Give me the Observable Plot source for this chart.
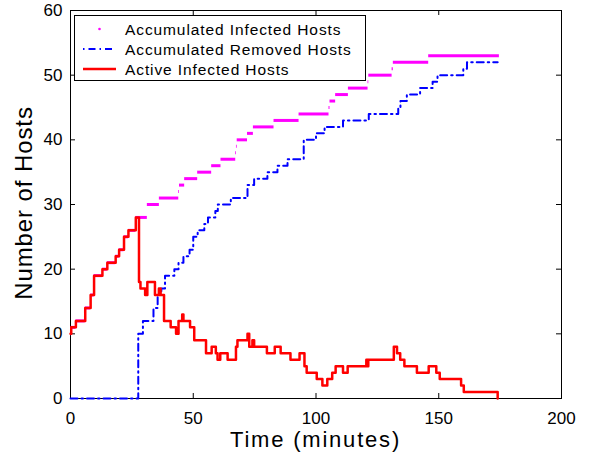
<!DOCTYPE html>
<html>
<head>
<meta charset="utf-8">
<script src="https://cdn.jsdelivr.net/npm/d3@7"></script>
<script src="https://cdn.jsdelivr.net/npm/@observablehq/plot@0.6"></script>
<style>
  html, body { margin: 0; padding: 0; background: white; }
  svg { display: block; }
</style>
</head>
<body>
<div id="chart"></div>
<script>
// Tick values
const xTicks = [0, 50, 100, 150, 200];
const yTicks = [0, 10, 20, 30, 40, 50, 60];

// Accumulated Infected Hosts (step starts, levels)
const infT = [0,0.3,2.2,6,8.2,9.6,13,15,18.4,19.8,21.8,23.6,26.6,31.3,36.2,44.1,44.4,46.5,51.8,57.5,61.3,67.3,67.6,67.9,72.1,74.5,82.9,93.1,105.3,105.7,108,113.2,121.2,121.5,131,131.5,145.9];
const infV = [10,11,12,14,16,19,20,21,22,23,25,26,28,30,31,32,33,34,35,36,37,38,39,40,41,42,43,44,45,46,47,48,49,50,51,52,53];
const infEnd = 174.7;

// Accumulated Removed Hosts
const remT = [0,27.6,29.5,33.8,35.5,37,38.5,42.3,44,46,48.5,50,51.8,54.5,56,59,60,65.3,72.1,74.8,80.2,84.3,88.4,95,100,103.5,111,121.5,133.5,134.4,137,142.4,147.5,149.5,160,161.5,174];
const remV = [0,10,12,14,16,17,19,20,21,22,23,25,26,27,28,29,30,31,33,34,35,36,37,40,41,42,43,44,45,46,47,48,49,50,51,52,52];

// Active Infected Hosts
const actT = [0,0.3,2.2,6,8.2,9.6,13,15,18.4,19.8,21.8,23.6,26.6,27.9,28.5,30.4,31.3,34.4,36,36.7,38.1,40.8,43,44,45.5,46,48.7,50.4,55.2,57.5,59.2,59.9,61,64,67.4,68,72.1,72.8,74.1,74.8,80,83.2,85.6,89.6,93.3,95.3,96.2,100.3,102.6,104.6,106.6,108,111,112.9,120.5,121,121.3,131.7,133,134.3,136,141.1,145.9,149,150.4,159.1,160.2,174];
const actV = [10,11,12,14,16,19,20,21,22,23,25,26,28,18,17,16,18,16,17,16,12,11,10,12,13,12,11,9,7,8,7,6,7,6,8,9,10,8,9,8,7,8,7,6,7,5,4,3,2,3,4,5,4,5,6,5,6,8,7,6,5,4,5,4,3,2,1,0];

const infected = infT.map((t, i) => ({t, t2: i < infT.length - 1 ? infT[i + 1] : infEnd, v: infV[i]}));
const removed = remT.map((t, i) => ({t, v: remV[i]}));
const active = actT.map((t, i) => ({t, v: actV[i]}));

const W = 589, H = 452;
const mL = 70, mR = 28, mT = 10, mB = 54;
const pw = W - mL - mR, ph = H - mT - mB;
const tickLen = 5;
const FONT = "'Liberation Sans', Arial, Helvetica, sans-serif";

const chart = Plot.plot({
  width: W,
  height: H,
  marginLeft: mL,
  marginRight: mR,
  marginTop: mT,
  marginBottom: mB,
  style: {fontFamily: FONT, fontSize: "17px", background: "white", color: "black"},
  x: {domain: [0, 200]},
  y: {domain: [0, 60]},
  marks: [
    Plot.frame({stroke: "black", strokeWidth: 1}),
    // inward ticks on all four sides
    Plot.ruleX(xTicks, {x: d => d, insetTop: ph - tickLen, stroke: "black"}),
    Plot.ruleX(xTicks, {x: d => d, insetBottom: ph - tickLen, stroke: "black"}),
    Plot.ruleY(yTicks, {y: d => d, insetRight: pw - tickLen, stroke: "black"}),
    Plot.ruleY(yTicks, {y: d => d, insetLeft: pw - tickLen, stroke: "black"}),
    Plot.axisX({ticks: xTicks, tickSize: 0, tickPadding: 13, label: null, tickFormat: d => String(d), letterSpacing: 1}),
    Plot.axisY({ticks: yTicks, tickSize: 0, tickPadding: 8, label: null, tickFormat: d => String(d), letterSpacing: 1}),
    // Accumulated Infected Hosts: dotted steps
    Plot.ruleY(infected, {y: "v", x1: "t", x2: "t2", stroke: "#ff00ff", strokeWidth: 3, strokeLinecap: "butt"}),
    // Accumulated Removed Hosts: dash-dot
    Plot.line(removed, {x: "t", y: "v", curve: "step-after", stroke: "#0000ff", strokeWidth: 2, strokeDasharray: "7,4,1.5,4"}),
    // Active Infected Hosts
    Plot.line(active, {x: "t", y: "v", curve: "step-after", stroke: "#ff0000", strokeWidth: 2.5})
  ]
});

const svg = d3.select(chart);

// Axis titles
svg.append("text")
  .attr("x", mL + pw / 2).attr("y", 446.5)
  .attr("text-anchor", "middle")
  .style("font-family", FONT).style("font-size", "22px").style("letter-spacing", "1.8px")
  .attr("fill", "black")
  .text("Time (minutes)");

svg.append("text")
  .attr("transform", `translate(32, ${mT + ph / 2 - 1}) rotate(-90)`)
  .attr("text-anchor", "middle")
  .style("font-family", FONT).style("font-size", "24px").style("letter-spacing", "0.9px")
  .attr("fill", "black")
  .text("Number of Hosts");

// Legend
const lg = svg.append("g").attr("text-anchor", "start");
lg.append("rect").attr("x", 74.5).attr("y", 15.5).attr("width", 291).attr("height", 65)
  .attr("fill", "white").attr("stroke", "black").attr("stroke-width", 1);
const rows = [
  {label: "Accumulated Infected Hosts", y: 29},
  {label: "Accumulated Removed Hosts", y: 49},
  {label: "Active Infected Hosts", y: 69}
];
lg.append("circle").attr("cx", 99.5).attr("cy", rows[0].y).attr("r", 1.3).attr("fill", "#ff00ff");
lg.append("line").attr("x1", 83).attr("x2", 116).attr("y1", rows[1].y).attr("y2", rows[1].y)
  .attr("stroke", "#0000ff").attr("stroke-width", 2).attr("stroke-dasharray", "1.5,4,7,4");
lg.append("line").attr("x1", 83).attr("x2", 116).attr("y1", rows[2].y).attr("y2", rows[2].y)
  .attr("stroke", "#ff0000").attr("stroke-width", 2.5);
rows.forEach(r => {
  lg.append("text").attr("x", 125).attr("y", r.y + 5.5)
    .attr("text-anchor", "start")
    .style("font-family", FONT).style("font-size", "15.5px").style("letter-spacing", "0.9px")
    .attr("fill", "black").text(r.label);
});

document.getElementById("chart").appendChild(chart);
</script>
</body>
</html>
